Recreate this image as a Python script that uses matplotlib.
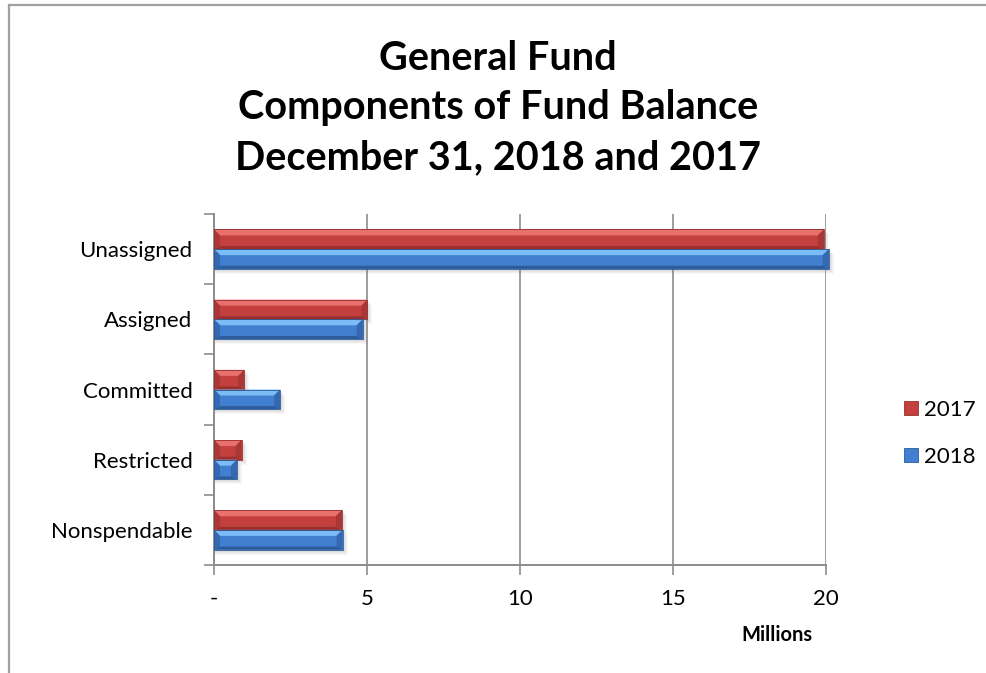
import matplotlib
matplotlib.use("Agg")
import matplotlib.pyplot as plt
from matplotlib.patches import Polygon, Rectangle
from matplotlib.lines import Line2D
from matplotlib.transforms import IdentityTransform
import numpy as np

categories = ["Unassigned", "Assigned", "Committed", "Restricted", "Nonspendable"]
values_2017 = [19.93, 5.01, 0.99, 0.90, 4.18]
values_2018 = [20.09, 4.86, 2.16, 0.75, 4.20]
series_labels = ["2017", "2018"]
x_ticks = [0, 5, 10, 15, 20]
x_tick_labels = ["-", "5", "10", "15", "20"]

FONT = ["Lato", "DejaVu Sans"]
plt.rcParams["font.family"] = FONT

# palette: (base, highlight, shade, end-cap)
RED = ("#C3403E", "#E8706D", "#97302F", "#A83736")
BLUE = ("#4180D0", "#7BBBF6", "#2D5C9A", "#3568B0")

W, H, DPI = 9.86, 6.73, 100
fig = plt.figure(figsize=(W, H), dpi=DPI)
ax = fig.add_axes([214 / 986, 1 - 565 / 673, 612 / 986, 351 / 673])

n = len(categories)
y = np.arange(n)[::-1].astype(float)
bh = 0.28
bars17 = ax.barh(y + bh / 2, values_2017, height=bh, color=RED[0], zorder=3,
                 clip_on=False, label=series_labels[0])
bars18 = ax.barh(y - bh / 2, values_2018, height=bh, color=BLUE[0], zorder=3,
                 clip_on=False, label=series_labels[1])

ax.set_xlim(0, 20)
ax.set_ylim(-0.5, n - 0.5)
ax.set_xticks(x_ticks)
ax.set_xticklabels(x_tick_labels, fontsize=16)
ax.set_yticks(y)
ax.set_yticklabels(categories, fontsize=16)
ax.set_yticks(np.arange(n + 1) - 0.5, minor=True)
ax.tick_params(axis="y", which="major", length=0, pad=15.5)
ax.tick_params(axis="y", which="minor", length=7, color="#8c8c8c", width=1.2)
ax.tick_params(axis="x", length=7, color="#8c8c8c", width=1.2, pad=10)
ax.grid(axis="x", color="#8c8c8c", linewidth=1.2, zorder=0)
ax.set_axisbelow(True)
for s in ["top", "right"]:
    ax.spines[s].set_visible(False)
for s in ["left", "bottom"]:
    ax.spines[s].set_color("#8c8c8c")
    ax.spines[s].set_linewidth(1.4)
    ax.spines[s].set_zorder(4)

ax.set_xlabel("Millions", fontsize=14.5, fontweight="bold")
ax.xaxis.set_label_coords(0.92, -0.17)

for yy, line in zip((58, 108, 158), ("General Fund", "Components of Fund Balance",
                                      "December 31, 2018 and 2017")):
    fig.text(0.505, 1 - yy / 673, line, ha="center", va="center",
             fontsize=28.5, fontweight="bold")

# outer frame lines (top and left)
fig.add_artist(Line2D([9 / 986, 1], [1 - 5 / 673, 1 - 5 / 673],
                      transform=fig.transFigure, color="#a0a0a0", lw=1.6))
fig.add_artist(Line2D([9 / 986, 9 / 986], [0, 1 - 5 / 673],
                      transform=fig.transFigure, color="#a0a0a0", lw=1.6))


def bevel(x0, y0, x1, y1, pal, b):
    base, hi, sh, cap = pal
    b = min(b, (x1 - x0) / 2, (y1 - y0) / 2)
    pieces = [
        ([(x0, y1), (x1, y1), (x1 - b, y1 - b), (x0 + b, y1 - b)], hi),
        ([(x0, y0), (x1, y0), (x1 - b, y0 + b * 0.5), (x0 + b, y0 + b * 0.5)], sh),
        ([(x0, y0), (x0, y1), (x0 + b, y1 - b), (x0 + b, y0 + b * 0.5)], cap),
        ([(x1, y0), (x1, y1), (x1 - b, y1 - b), (x1 - b, y0 + b * 0.5)], cap),
    ]
    return [Polygon(pts, closed=True, facecolor=c, edgecolor="none",
                    transform=IdentityTransform(), zorder=5, clip_on=False)
            for pts, c in pieces]


fig.canvas.draw()
for bars, pal in ((bars17, RED), (bars18, BLUE)):
    for p in bars:
        bb = p.get_window_extent()
        x0, y0, x1, y1 = bb.x0, bb.y0, bb.x1, bb.y1
        # soft drop shadow
        for k, a in ((5, 0.05), (4, 0.06), (3, 0.07), (2, 0.08)):
            ax.add_artist(Rectangle((x0 + 1, y0 - k), x1 - x0 + k - 1, y1 - y0,
                                    facecolor="#707070", alpha=a,
                                    edgecolor="none",
                                    transform=IdentityTransform(), zorder=2,
                                    clip_on=False))
        for poly in bevel(x0, y0, x1, y1, pal, 6.0):
            ax.add_artist(poly)
        ax.add_artist(Rectangle((x0, y0), x1 - x0, y1 - y0, facecolor="none",
                                edgecolor=pal[2], lw=0.6,
                                transform=IdentityTransform(), zorder=7,
                                clip_on=False))

# legend with square swatches
leg = ax.legend(handles=[bars17, bars18], loc="center left",
                bbox_to_anchor=(1.11, 0.375), frameon=False,
                fontsize=16, handlelength=0.6, handleheight=0.6,
                labelspacing=1.2, handletextpad=0.3, borderpad=0)
for h, pal in zip(leg.legend_handles, (RED, BLUE)):
    h.set_edgecolor(pal[2])
    h.set_linewidth(0.6)

fig.savefig("out.png", dpi=DPI)
